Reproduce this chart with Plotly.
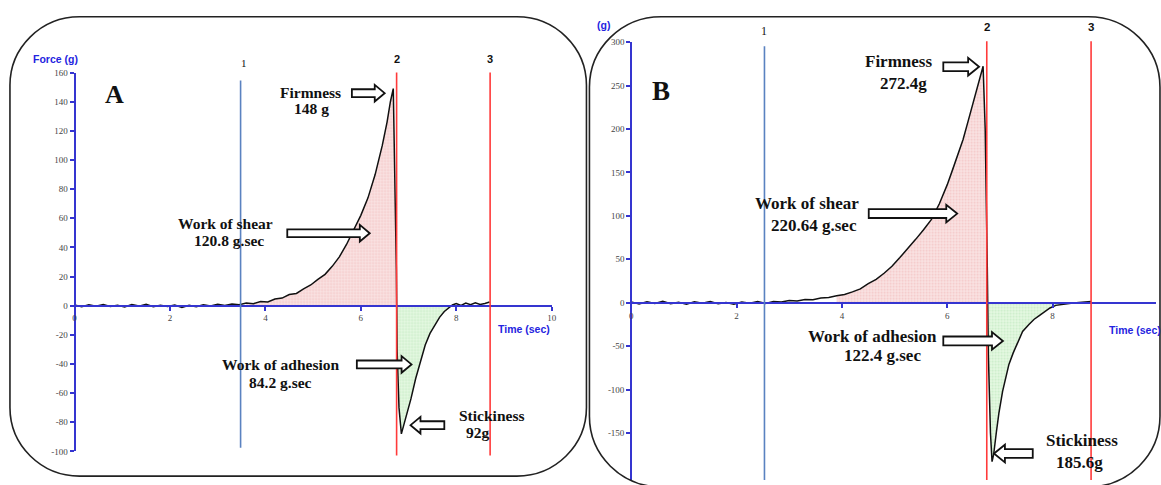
import plotly.graph_objects as go

W, H = 1161, 485

# ---------------- data ----------------
tA = [0.00, 0.15, 0.30, 0.45, 0.60, 0.75, 0.90, 1.05, 1.20, 1.35, 1.50, 1.65, 1.80, 1.95, 2.10,
      2.25, 2.40, 2.55, 2.70, 2.85, 3.00, 3.15, 3.30, 3.45, 3.60, 3.75, 3.90, 4.05, 4.20, 4.35,
      4.50, 4.65, 4.80, 4.95, 5.10, 5.25, 5.40, 5.55, 5.70, 5.85, 6.00, 6.15, 6.30, 6.45, 6.55,
      6.62, 6.68, 6.745, 6.76, 6.80, 6.85, 6.90, 6.97, 7.05, 7.15, 7.25, 7.35, 7.45, 7.55, 7.65,
      7.75, 7.85, 7.92, 8.00, 8.10, 8.20, 8.30, 8.40, 8.50, 8.60, 8.70]
fA = [0.5, -0.8, 0.6, -0.4, 0.8, -0.6, 0.3, -0.9, 0.7, -0.3, 0.9, -0.7, 0.2, -0.5, 0.4,
      -1.2, 0.3, -0.8, 0.6, -0.2, 0.9, 0.1, 1.2, 0.6, 1.8, 1.4, 2.9, 2.6, 4.6, 5.2,
      7.6, 8.4, 11.5, 14.2, 18.0, 21.5, 27.0, 33.5, 42.0, 52.0, 62.0, 74.0, 90.0, 110.0, 126.0,
      140.0, 149.0, 25.0, -30.0, -70.0, -88.0, -82.0, -74.0, -64.0, -50.0, -38.0, -27.0, -19.0, -13.0, -8.0,
      -4.0, -1.5, 0.5, 1.5, 0.2, 1.8, 0.6, 2.0, 0.8, 1.5, 2.5]

tB = [0.00, 0.15, 0.30, 0.45, 0.60, 0.75, 0.90, 1.05, 1.20, 1.35, 1.50, 1.65, 1.80, 1.95, 2.10,
      2.25, 2.40, 2.55, 2.70, 2.85, 3.00, 3.15, 3.30, 3.45, 3.60, 3.75, 3.90, 4.05, 4.20, 4.35,
      4.50, 4.65, 4.80, 4.95, 5.10, 5.25, 5.40, 5.55, 5.70, 5.85, 6.00, 6.10, 6.20, 6.30, 6.40,
      6.50, 6.60, 6.68, 6.72, 6.745, 6.76, 6.78, 6.82, 6.85, 6.88, 6.93, 6.98, 7.05, 7.12, 7.17,
      7.25, 7.35, 7.43, 7.55, 7.65, 7.74, 7.85, 7.95, 8.06, 8.20, 8.35, 8.50, 8.60, 8.73]
fB = [1.0, -1.5, 1.2, -0.8, 1.6, -1.2, 0.5, -1.8, 1.0, -0.6, 1.4, -1.0, 0.4, -1.6, 0.9,
      -0.5, 1.3, -0.7, 1.5, 0.8, 2.5, 2.0, 3.8, 3.5, 5.5, 6.0, 8.0, 9.5, 12.5, 16.0,
      22.0, 27.0, 34.0, 42.0, 52.0, 62.0, 73.0, 84.0, 96.0, 114.0, 136.0, 153.0, 170.0, 188.0, 210.0,
      232.0, 256.0, 272.4, 200.0, 117.0, 40.0, -60.0, -150.0, -183.0, -175.0, -150.0, -127.0, -102.0, -84.0, -71.0,
      -58.0, -43.0, -33.0, -25.0, -19.0, -15.0, -10.0, -6.0, -3.0, -1.5, -0.5, 0.3, 0.8, 1.5]

marker_labels = ["1", "2", "3"]
markersA = [3.48, 6.75, 8.71]
markersB = [2.53, 6.75, 8.73]

fill_posA = (3.6, 6.75)
fill_negA = (6.75, 7.95)
fill_posB = (3.9, 6.75)
fill_negB = (6.75, 8.40)

textsA = {"firm": ["Firmness", "148 g"], "shear": ["Work of shear", "120.8 g.sec"],
          "adh": ["Work of adhesion", "84.2 g.sec"], "stick": ["Stickiness", "92g"]}
textsB = {"firm": ["Firmness", "272.4g"], "shear": ["Work of shear", "220.64 g.sec"],
          "adh": ["Work of adhesion", "122.4 g.sec"], "stick": ["Stickiness", "185.6g"]}

yticksA = [-100, -80, -60, -40, -20, 0, 20, 40, 60, 80, 100, 120, 140, 160]
yticksB = [-150, -100, -50, 0, 50, 100, 150, 200, 250, 300]
xticks = [0, 2, 4, 6, 8, 10]

# ---------------- layout helpers ----------------
def px(x):
    return x / W

def py(y):
    return 1 - y / H

xA_rng, xA_dom = [0, 10], [px(73), px(553)]
yA_rng, yA_dom = [-100, 160], [py(455.75), py(69)]
xB_rng, xB_dom = [0, (W - 633) / 53.0], [px(633), 1.0]
yB_rng, yB_dom = [-204.1, 300], [0.0, py(38)]


def ypos(v, rng, dom):
    return dom[0] + (v - rng[0]) / (rng[1] - rng[0]) * (dom[1] - dom[0])


def pp(x, y):
    return f"{px(x):.5f},{py(y):.5f}"


def rrect(x0, y0, x1, y1, r):
    k = 0.5523 * r
    return (f"M {pp(x0 + r, y0)} L {pp(x1 - r, y0)} "
            f"C {pp(x1 - r + k, y0)} {pp(x1, y0 + r - k)} {pp(x1, y0 + r)} "
            f"L {pp(x1, y1 - r)} "
            f"C {pp(x1, y1 - r + k)} {pp(x1 - r + k, y1)} {pp(x1 - r, y1)} "
            f"L {pp(x0 + r, y1)} "
            f"C {pp(x0 + r - k, y1)} {pp(x0, y1 - r + k)} {pp(x0, y1 - r)} "
            f"L {pp(x0, y0 + r)} "
            f"C {pp(x0, y0 + r - k)} {pp(x0 + r - k, y0)} {pp(x0 + r, y0)} Z")


def arrow(x_tail, x_tip, y, s=4, h=8.5, L=10):
    d = 1 if x_tip > x_tail else -1
    xb = x_tip - d * L
    pts = [(x_tail, y - s), (xb, y - s), (xb, y - h), (x_tip, y), (xb, y + h), (xb, y + s), (x_tail, y + s)]
    return "M " + " L ".join(pp(a, b) for a, b in pts) + " Z"


fig = go.Figure()

BLACK = "#111111"
AXBLUE = "#3535d0"


def add_panel(t, f, fpos, fneg, xa, ya):
    pos = [(a, b) for a, b in zip(t, f) if fpos[0] <= a <= fpos[1]]
    neg = [(a, b) for a, b in zip(t, f) if fneg[0] <= a <= fneg[1] and b <= 0]
    fig.add_trace(go.Scatter(x=[p[0] for p in pos], y=[max(p[1], 0) for p in pos], mode="lines",
                             line=dict(width=0), fill="tozeroy", fillcolor="rgba(248,205,205,0.9)",
                             fillpattern=dict(shape=".", fgcolor="rgba(225,120,120,0.55)",
                                              bgcolor="rgba(250,225,225,0.9)", size=3, solidity=0.35),
                             xaxis=xa, yaxis=ya, hoverinfo="skip", showlegend=False))
    fig.add_trace(go.Scatter(x=[p[0] for p in neg], y=[p[1] for p in neg], mode="lines",
                             line=dict(width=0), fill="tozeroy", fillcolor="rgba(215,245,210,0.9)",
                             fillpattern=dict(shape=".", fgcolor="rgba(120,200,120,0.5)",
                                              bgcolor="rgba(225,248,222,0.9)", size=3, solidity=0.35),
                             xaxis=xa, yaxis=ya, hoverinfo="skip", showlegend=False))
    fig.add_trace(go.Scatter(x=t, y=f, mode="lines", line=dict(color=BLACK, width=1.5),
                             xaxis=xa, yaxis=ya, showlegend=False))


add_panel(tA, fA, fill_posA, fill_negA, "x", "y")
add_panel(tB, fB, fill_posB, fill_negB, "x2", "y2")

axis_common = dict(showline=True, linecolor=AXBLUE, linewidth=2, ticks="outside", ticklen=4,
                   tickcolor=AXBLUE, tickwidth=2, showgrid=False, zeroline=False,
                   tickfont=dict(family="Liberation Serif", size=9, color="#444"))


def labels(vals):
    return [str(v) for v in vals]


fig.update_layout(
    width=W, height=H, margin=dict(l=0, r=0, t=0, b=0),
    paper_bgcolor="white", plot_bgcolor="rgba(0,0,0,0)", showlegend=False,
    xaxis=dict(domain=xA_dom, range=xA_rng, anchor="free",
               position=ypos(0, yA_rng, yA_dom), tickvals=xticks, ticktext=labels(xticks), **axis_common),
    yaxis=dict(domain=yA_dom, range=yA_rng, anchor="free", position=xA_dom[0],
               tickvals=yticksA, ticktext=labels(yticksA), **axis_common),
    xaxis2=dict(domain=xB_dom, range=xB_rng, anchor="free",
                position=ypos(0, yB_rng, yB_dom), tickvals=xticks, ticktext=labels(xticks), **axis_common),
    yaxis2=dict(domain=yB_dom, range=yB_rng, anchor="free", position=xB_dom[0],
                tickvals=yticksB, ticktext=labels(yticksB), **axis_common),
)

shapes = []
# rounded frames
shapes.append(dict(type="path", xref="paper", yref="paper", path=rrect(8, 12, 588, 481, 70),
                   line=dict(color="#222", width=1.6), layer="above"))
shapes.append(dict(type="path", xref="paper", yref="paper", path=rrect(591, 12, 1165, 492, 72),
                   line=dict(color="#222", width=1.6), layer="above"))

# cursor lines
line_colors = ["#5a82c0", "#ff3a3a", "#ff3a3a"]
extA = [(77, 452), (69, 460), (69, 460)]
extB = [(42, 485), (37, 485), (37, 485)]
for xv, c, (y0, y1) in zip(markersA, line_colors, extA):
    shapes.append(dict(type="line", xref="x", yref="paper", x0=xv, x1=xv, y0=py(y1), y1=py(y0),
                       line=dict(color=c, width=1.6), layer="above"))
for xv, c, (y0, y1) in zip(markersB, line_colors, extB):
    shapes.append(dict(type="line", xref="x2", yref="paper", x0=xv, x1=xv, y0=py(y1), y1=py(y0),
                       line=dict(color=c, width=1.6), layer="above"))

# hollow block arrows (pixel positions on the page)
arrowsA = [(352, 385, 90), (287, 370, 233), (357, 412, 367), (445, 411, 429)]
arrowsB = [(947, 983, 63), (872, 961, 213), (947, 1007, 343), (1037, 998, 458)]
for a in arrowsA:
    shapes.append(dict(type="path", xref="paper", yref="paper", path=arrow(*a),
                       line=dict(color="#111", width=1.8), fillcolor="white", layer="above"))
for a in arrowsB:
    shapes.append(dict(type="path", xref="paper", yref="paper", path=arrow(*a, s=4.5, h=9, L=11),
                       line=dict(color="#111", width=1.8), fillcolor="white", layer="above"))
fig.update_layout(shapes=shapes)

ann = []


def txt(x, y, s, size, family="Liberation Serif", bold=True, color="#111", xanchor="center"):
    ann.append(dict(xref="paper", yref="paper", x=px(x), y=py(y), text=f"<b>{s}</b>" if bold else s,
                    showarrow=False, xanchor=xanchor, yanchor="middle",
                    font=dict(family=family, size=size, color=color)))


# panel A texts
posA = {"firm": [(310, 89), (311, 106)], "shear": [(225, 223), (228, 240)],
        "adh": [(281, 367), (280, 385)], "stick": [(492, 419), (479, 437)]}
for k, lines in textsA.items():
    for s, (x, y) in zip(lines, posA[k]):
        txt(x, y, s, 15.5)
posB = {"firm": [(902, 58), (907, 80)], "shear": [(810, 203), (817, 225)],
        "adh": [(876, 338), (886, 358)], "stick": [(1087, 445), (1084, 467)]}
for k, lines in textsB.items():
    for s, (x, y) in zip(lines, posB[k]):
        txt(x, y, s, 17)

txt(113, 91, "A", 26)
txt(663, 88, "B", 27)

# cursor labels
for lab, xv, y in zip(marker_labels, markersA, [59, 55, 55]):
    xp = 73 + xv * 48
    if lab == "1":
        txt(xp + 3, y, lab, 11, bold=False)
    else:
        txt(xp, y, lab, 11, family="Liberation Sans")
for lab, xv, y in zip(marker_labels, markersB, [27, 22, 22]):
    xp = 633 + xv * 53
    if lab == "1":
        txt(xp, y, lab, 12, bold=False)
    else:
        txt(xp, y, lab, 11.5, family="Liberation Sans")

txt(78, 55, "Force (g)", 10.5, family="Liberation Sans", color="#2424e0", xanchor="right")
txt(553, 331, "Time (sec)", 10.5, family="Liberation Sans", color="#2424e0", xanchor="right")
txt(614, 20, "(g)", 10.5, family="Liberation Sans", color="#2424e0", xanchor="right")
txt(1112, 332, "Time (sec)", 10.5, family="Liberation Sans", color="#2424e0", xanchor="left")

fig.update_layout(annotations=ann)
fig.write_html("out.html")
